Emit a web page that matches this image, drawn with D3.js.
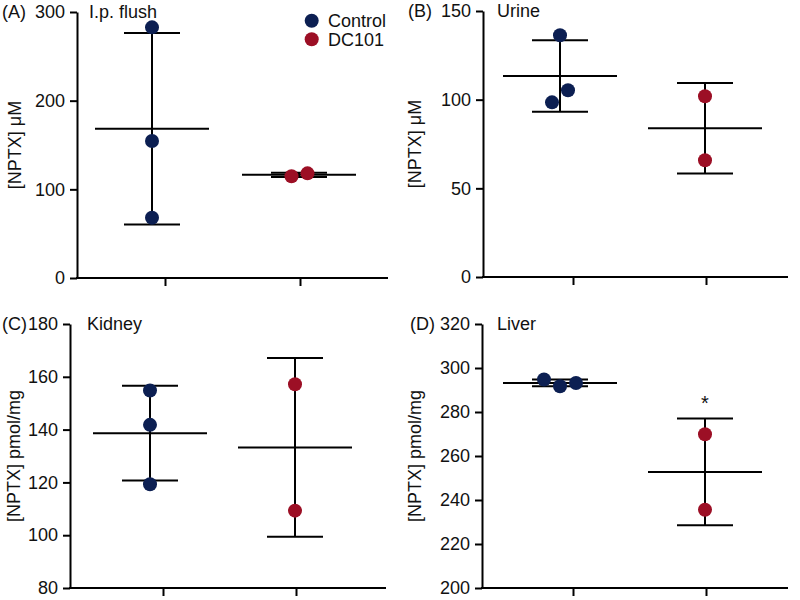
<!DOCTYPE html>
<html>
<head>
<meta charset="utf-8">
<script src="https://cdn.jsdelivr.net/npm/d3@7"></script>
<style>
  body { margin: 0; background: #fff; }
  svg { display: block; font-family: "Liberation Sans", Arial, Helvetica, sans-serif; }
</style>
</head>
<body>
<svg id="chart" width="800" height="600"></svg>
<script>
// ---------------- data ----------------
const panelLetters = ["(A)", "(B)", "(C)", "(D)"];
const panelTitles = ["I.p. flush", "Urine", "Kidney", "Liver"];
const yAxisTitles = ["[NPTX] \u03BCM", "[NPTX] \u03BCM", "[NPTX] pmol/mg", "[NPTX] pmol/mg"];
const groups = ["Control", "DC101"];
const yDomains = [[0, 300], [0, 150], [80, 180], [200, 320]];
const yTickValues = [
  [0, 100, 200, 300],
  [0, 50, 100, 150],
  [80, 100, 120, 140, 160, 180],
  [200, 220, 240, 260, 280, 300, 320]
];
const controlValues = [
  [282.7, 154.5, 68.0],
  [136.3, 98.5, 105.3],
  [154.8, 141.8, 119.3],
  [294.8, 291.7, 293.2]
];
const dc101Values = [
  [114.7, 118.0],
  [101.9, 65.8],
  [157.2, 109.3],
  [269.9, 235.6]
];
const dc101Marks = ["", "", "", "*"];
const groupColors = ["#0c1f52", "#9c0f25"];

// ---------------- layout (positions / styles) ----------------
const frames = [
  { x0: 77,  x1: 388, yTop: 12,  yBot: 278, tickStart: 88, tickStep: 135, titleX: 89,  letterX: 2,   yTitleX: 15 },
  { x0: 483, x1: 788, yTop: 11,  yBot: 277, tickStart: 90, tickStep: 133, titleX: 497, letterX: 408, yTitleX: 415 },
  { x0: 70,  x1: 386, yTop: 324, yBot: 588, tickStart: 93, tickStep: 133, titleX: 87,  letterX: 2,   yTitleX: 14 },
  { x0: 482, x1: 788, yTop: 324, yBot: 588, tickStart: 91, tickStep: 133, titleX: 497, letterX: 410, yTitleX: 415 }
];
const groupOffset = [-13, -1];          // px shift of each group's column from its tick
const jitter = [                        // px horizontal spread of points
  [[0, 0, 0], [-7.5, 8.5]],
  [[0, -8, 8], [0, 0]],
  [[0, 0, 0], [0, 0]],
  [[-16, 0, 16], [0, 0]]
];
const meanHalf = 57, capHalf = 28, dotR = 7, fontSize = 18;

const svg = d3.select("#chart");

frames.forEach((f, i) => {
  const g = svg.append("g");
  const y = d3.scaleLinear().domain(yDomains[i]).range([f.yBot, f.yTop]);
  const x = d3.scalePoint().domain(groups)
    .range([f.x0 + f.tickStart, f.x0 + f.tickStart + f.tickStep]).padding(0);

  // y axis
  const ya = g.append("g").attr("transform", `translate(${f.x0},0)`)
    .call(d3.axisLeft(y).tickValues(yTickValues[i]).tickSize(7).tickPadding(5).tickSizeOuter(0));
  ya.select(".domain").attr("stroke", "#000").attr("stroke-width", 2);
  ya.selectAll(".tick line").attr("stroke", "#000").attr("stroke-width", 2);
  ya.selectAll(".tick text").attr("font-size", fontSize).attr("font-family", "Liberation Sans, Arial, sans-serif").attr("fill", "#111");

  // x axis
  const xa = g.append("g").attr("transform", `translate(0,${f.yBot})`)
    .call(d3.axisBottom(x).tickSize(8).tickSizeOuter(0).tickFormat(""));
  xa.select(".domain").remove();
  xa.selectAll(".tick line").attr("stroke", "#000").attr("stroke-width", 2);
  xa.append("line").attr("x1", f.x0 - 1).attr("x2", f.x1).attr("y1", 0).attr("y2", 0)
    .attr("stroke", "#000").attr("stroke-width", 2);

  // titles
  g.append("text").attr("x", f.letterX).attr("y", f.yTop).attr("dy", "0.35em")
    .attr("font-size", fontSize).attr("fill", "#111").text(panelLetters[i]);
  g.append("text").attr("x", f.titleX).attr("y", f.yTop).attr("dy", "0.35em")
    .attr("font-size", fontSize).attr("fill", "#111").text(panelTitles[i]);
  g.append("text")
    .attr("transform", `translate(${f.yTitleX},${(f.yTop + f.yBot) / 2}) rotate(-90)`)
    .attr("text-anchor", "middle").attr("dy", "0.35em")
    .attr("font-size", fontSize).attr("fill", "#111").text(yAxisTitles[i]);

  // groups
  [controlValues[i], dc101Values[i]].forEach((vals, gi) => {
    const cx = x(groups[gi]) + groupOffset[gi];
    const m = d3.mean(vals), sd = d3.deviation(vals);
    const lines = [
      [cx, cx, y(m + sd), y(m - sd)],
      [cx - capHalf, cx + capHalf, y(m + sd), y(m + sd)],
      [cx - capHalf, cx + capHalf, y(m - sd), y(m - sd)],
      [cx - meanHalf, cx + meanHalf, y(m), y(m)]
    ];
    g.selectAll(null).data(lines).enter().append("line")
      .attr("x1", d => d[0]).attr("x2", d => d[1]).attr("y1", d => d[2]).attr("y2", d => d[3])
      .attr("stroke", "#000").attr("stroke-width", 2);
    g.selectAll(null).data(vals).enter().append("circle")
      .attr("cx", (d, k) => cx + jitter[i][gi][k]).attr("cy", d => y(d))
      .attr("r", dotR).attr("fill", groupColors[gi]);
    if (gi === 1 && dc101Marks[i]) {
      g.append("text").attr("x", cx).attr("y", y(m + sd) - 9)
        .attr("text-anchor", "middle").attr("font-size", 20).attr("fill", "#111")
        .text(dc101Marks[i]);
    }
  });
});

// legend
const legend = svg.append("g");
groups.forEach((name, k) => {
  const ly = 20.7 + k * 18.5;
  legend.append("circle").attr("cx", 311.7).attr("cy", ly).attr("r", dotR).attr("fill", groupColors[k]);
  legend.append("text").attr("x", 328).attr("y", ly).attr("dy", "0.35em")
    .attr("font-size", fontSize).attr("fill", "#111").text(name);
});
</script>
</body>
</html>
